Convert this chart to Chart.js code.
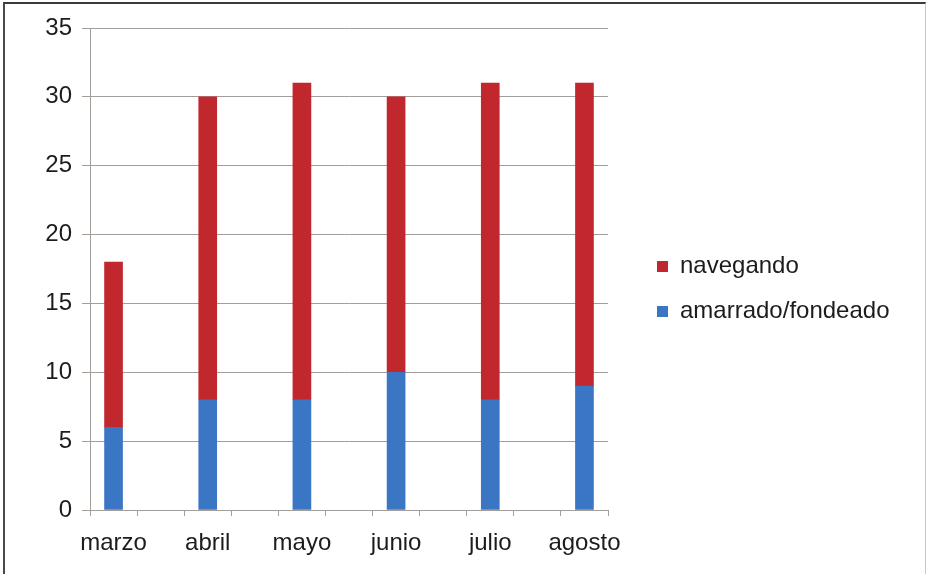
<!DOCTYPE html>
<html>
<head>
<meta charset="utf-8">
<script src="https://cdn.jsdelivr.net/npm/chart.js@4/dist/chart.umd.min.js"></script>
<style>
  body { margin: 0; background: #fff; }
  #wrap { position: relative; width: 926px; height: 574px; }
  #frame {
    position: absolute; left: 3px; top: 2px; right: 0; bottom: 0;
    border-top: 2px solid #3a3a3a; border-left: 2px solid #4a4a4a; border-right: 1px solid #c8c8c8;
    pointer-events: none;
  }
</style>
</head>
<body>
<div id="wrap">
  <canvas id="barChart" width="926" height="574"></canvas>
  <div id="frame"></div>
</div>
<script>
const months = ["marzo", "abril", "mayo", "junio", "julio", "agosto"];
const amarrado = [6, 8, 8, 10, 8, 9];
const navegando = [12, 22, 23, 20, 23, 22];
const yTicks = [0, 5, 10, 15, 20, 25, 30, 35];

const gridColor = "#a49e9a";
const textColor = "#1c1c1c";
const font = { family: "'Liberation Sans', Arial, sans-serif", size: 24 };

// give the legend the whole strip right of the plot, with a gap before the keys
const legendShift = {
  id: "legendShift",
  afterLayout(chart) {
    const lg = chart.legend;
    lg.left = chart.chartArea.right + 28;
    lg.right = chart.width;
    lg.width = lg.right - lg.left;
    lg.top -= 12; lg.bottom -= 12;
  },
};

// category marks sit halfway between the bars
const xTickColor = (c) => {
  if (!c.tick) return gridColor;
  return Math.abs(Math.round(c.tick.value * 4)) % 2 === 1 ? gridColor : "rgba(0,0,0,0)";
};

const ctx = document.getElementById("barChart").getContext("2d");
const barChart = new Chart(ctx, {
  type: "bar",
  data: {
    datasets: [
      {
        label: "amarrado/fondeado",
        data: amarrado.map((v, i) => ({ x: i, y: v })),
        backgroundColor: "#3a76c4",
      },
      {
        label: "navegando",
        data: navegando.map((v, i) => ({ x: i, y: v })),
        backgroundColor: "#c1282e",
      },
    ],
  },
  options: {
    responsive: false,
    animation: false,
    barThickness: 18,
    // right padding leaves the plot ending at x=608 (legend gets a quarter of the rest)
    layout: { padding: { top: 28, right: 115.33, bottom: 0, left: 0 } },
    plugins: {
      tooltip: { enabled: false },
      legend: {
        position: "right",
        reverse: true,
        labels: {
          color: textColor,
          font: font,
          boxWidth: 11,
          boxHeight: 11,
          padding: 21,
        },
      },
    },
    scales: {
      x: {
        type: "linear",
        stacked: true,
        offset: false,
        min: -0.25,
        max: 5.25,
        afterBuildTicks: (s) => {
          const t = [];
          for (let k = 0; k <= 22; k++) t.push({ value: -0.25 + k * 0.25 });
          s.ticks = t;
        },
        afterFit: (s) => { s.height = 64; },
        grid: {
          offset: false,
          drawOnChartArea: false,
          tickLength: 6,
          tickColor: xTickColor,
        },
        border: { color: gridColor, width: 1 },
        ticks: {
          autoSkip: false,
          maxRotation: 0,
          padding: 13,
          color: textColor,
          font: font,
          callback: (v) => (Number.isInteger(v) ? months[v] : ""),
        },
      },
      y: {
        stacked: true,
        min: 0,
        max: 35,
        afterBuildTicks: (s) => { s.ticks = yTicks.map((v) => ({ value: v })); },
        afterFit: (s) => { s.width = 90; },
        grid: { color: gridColor, tickLength: 8, tickColor: gridColor },
        border: { color: gridColor, width: 1 },
        ticks: { padding: 10, color: textColor, font: font },
      },
    },
  },
  plugins: [legendShift],
});
</script>
</body>
</html>
